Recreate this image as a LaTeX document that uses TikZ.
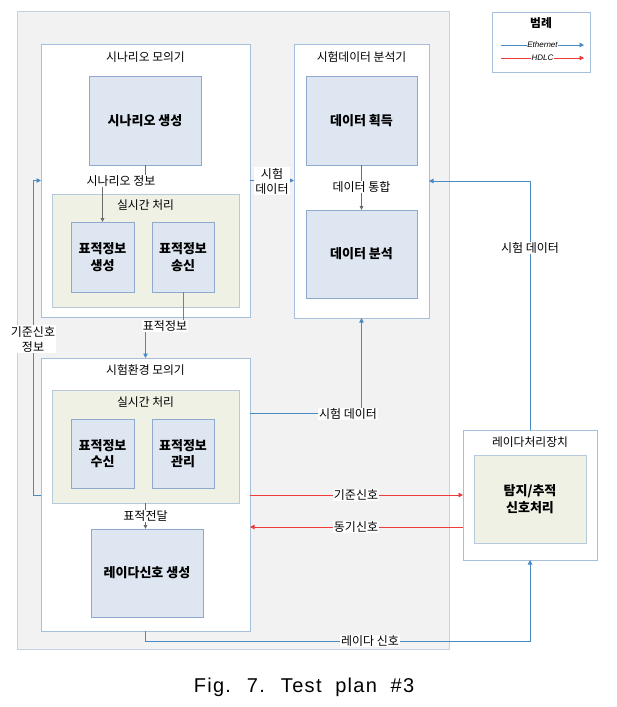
\documentclass[tikz,border=0pt]{standalone}
\usepackage{fontspec}
\setmainfont{Noto Sans CJK KR}
\newfontfamily\capfont[LetterSpace=6.5]{Liberation Sans}
\newfontfamily\latfont{Liberation Sans}
\usetikzlibrary{calc,arrows.meta}
\definecolor{panelfill}{HTML}{F2F2F2}
\definecolor{panelline}{HTML}{C3D3E6}
\definecolor{boxline}{HTML}{A7BFDB}
\definecolor{bluefill}{HTML}{DEE7F1}
\definecolor{blueline}{HTML}{8FA9CE}
\definecolor{greenfill}{HTML}{EEF1E4}
\definecolor{greenline}{HTML}{B7C9DD}
\definecolor{conblue}{HTML}{4A8BC6}
\definecolor{conred}{HTML}{F03A3A}
\definecolor{congray}{HTML}{6B6B6B}
\tikzset{
  x=1pt, y=-1pt,
  rbox/.style={draw, inner sep=0pt, outer sep=0pt, anchor=north west, line width=0.8pt},
  panel/.style={rbox, fill=panelfill, draw=panelline},
  wbox/.style={rbox, fill=white, draw=boxline},
  bbox/.style={rbox, fill=bluefill, draw=blueline, font=\bfseries\fontsize{13}{16.5}\selectfont, align=center},
  gbox/.style={rbox, fill=greenfill, draw=greenline},
  ttl/.style={inner sep=1pt, font=\fontsize{11.8}{14}\selectfont},
  lbl/.style={fill=white, inner sep=1pt, font=\fontsize{12}{15}\selectfont, align=center},
  barrow/.style={draw=conblue, line width=0.9pt, -{Triangle[length=4.5pt,width=4.5pt]}},
  rarrow/.style={draw=conred, line width=0.9pt, -{Triangle[length=4.5pt,width=4.5pt]}},
  garrow/.style={draw=congray, line width=0.8pt, -{Triangle[length=4pt,width=3.5pt]}},
}
\begin{document}
\begin{tikzpicture}
\useasboundingbox (0,0) rectangle (617,707);
% panels
\node[panel, minimum width=432pt, minimum height=638pt] (panel) at (17,11) {};
\node[wbox, minimum width=209pt, minimum height=273pt] (scen) at (41,44) {};
\node[wbox, minimum width=135pt, minimum height=274pt] (anal) at (294,44) {};
\node[wbox, minimum width=209pt, minimum height=273pt] (test) at (41,358) {};
\node[wbox, minimum width=134pt, minimum height=130pt] (radar) at (463,430) {};
\node[wbox, minimum width=98pt, minimum height=60pt] (legend) at (492,12) {};
% titles
\node[ttl] (scent) at (145.5,57) {시나리오 모의기};
\node[ttl] (analt) at (361.5,57) {시험데이터 분석기};
\node[ttl] (testt) at (145.5,370) {시험환경 모의기};
\node[ttl] (radart) at (530,442) {레이다처리장치};
\node[ttl, font=\bfseries\fontsize{11.8}{14}\selectfont] (legendt) at (541,23) {범례};
% scenario simulator content
\node[bbox, minimum width=112pt, minimum height=89pt] (scengen) at (89,76) {시나리오 생성};
\node[gbox, minimum width=187pt, minimum height=113pt] (rt1) at (52,194) {};
\node[ttl] (rt1t) at (145.5,205) {실시간 처리};
\node[bbox, minimum width=63pt, minimum height=70pt] (tgen) at (71,222) {표적정보\\생성};
\node[bbox, minimum width=62pt, minimum height=70pt] (tsend) at (152,222) {표적정보\\송신};
% analyzer content
\node[bbox, minimum width=111pt, minimum height=89pt] (acq) at (306,76) {데이터 획득};
\node[bbox, minimum width=111pt, minimum height=88pt] (ana) at (306,210) {데이터 분석};
% test environment content
\node[gbox, minimum width=187pt, minimum height=113pt] (rt2) at (52,390) {};
\node[ttl] (rt2t) at (145.5,402) {실시간 처리};
\node[bbox, minimum width=63pt, minimum height=69pt] (trecv) at (71,419) {표적정보\\수신};
\node[bbox, minimum width=62pt, minimum height=69pt] (tmng) at (152,419) {표적정보\\관리};
\node[bbox, minimum width=112pt, minimum height=88pt] (radgen) at (91,529) {레이다신호 생성};
% radar unit content
\node[gbox, minimum width=112pt, minimum height=88pt, font=\bfseries\fontsize{13}{16.5}\selectfont, align=center] (detect) at (474,455) {탐지/추적\\신호처리};
% internal connectors
\draw[garrow] (scengen.south) -- ++(0,16) -| (tgen.north);
\node[lbl] (l1) at (121,181) {시나리오 정보};
\draw[garrow] (acq.south) -- (ana.north);
\node[lbl] (l2) at (361.5,187) {데이터 통합};
\draw[garrow] (rt2.south) -- (rt2.south |- radgen.north);
\node[lbl] (l3) at (145.5,516) {표적전달};
% blue connectors
\draw[barrow] (scen.east) -- (scen.east -| anal.west);
\node[lbl] (l4) at (272,181) {시험\\데이터};
\draw[barrow] ($(test.north west)+(0,137)$) -- ++(-8,0) |- (scen.west);
\node[lbl] (l5) at (33,339) {기준신호\\정보};
\draw[barrow] (tsend.south) -- ++(0,34) -| (test.north);
\node[lbl] (l6) at (165,326) {표적정보};
\draw[barrow] ($(test.north east)+(0,55)$) -| (anal.south);
\node[lbl] (l7) at (348,414) {시험 데이터};
\draw[barrow] (radar.north) |- (anal.east);
\node[lbl] (l8) at (530,248) {시험 데이터};
\draw[barrow] (test.south) -- ++(0,10) -| (radar.south);
\node[lbl] (l9) at (370,641) {레이다 신호};
% red connectors
\draw[rarrow] ($(test.north east)+(0,137)$) -- ($(radar.north west)+(0,65)$);
\node[lbl] (l10) at (356,495) {기준신호};
\draw[rarrow] ($(radar.north west)+(0,97)$) -- ($(test.north east)+(0,169)$);
\node[lbl] (l11) at (356,527) {동기신호};
% legend
\draw[barrow, line width=0.7pt] ($(legend.north west)+(9,33)$) -- ($(legend.north west)+(92,33)$)
  node[midway, fill=white, inner sep=0.5pt, font=\latfont\itshape\fontsize{8}{9}\selectfont] (leth) {Ethernet};
\draw[rarrow, line width=0.7pt] ($(legend.north west)+(9,46)$) -- ($(legend.north west)+(92,46)$)
  node[midway, fill=white, inner sep=0.5pt, font=\latfont\itshape\fontsize{8}{9}\selectfont] (lhdlc) {HDLC};
% caption
\node[inner sep=0pt, font=\capfont\fontsize{20}{24}\selectfont] (cap) at (304,687) {Fig.~ 7.~ Test~ plan~ \#3};
\end{tikzpicture}
\end{document}
